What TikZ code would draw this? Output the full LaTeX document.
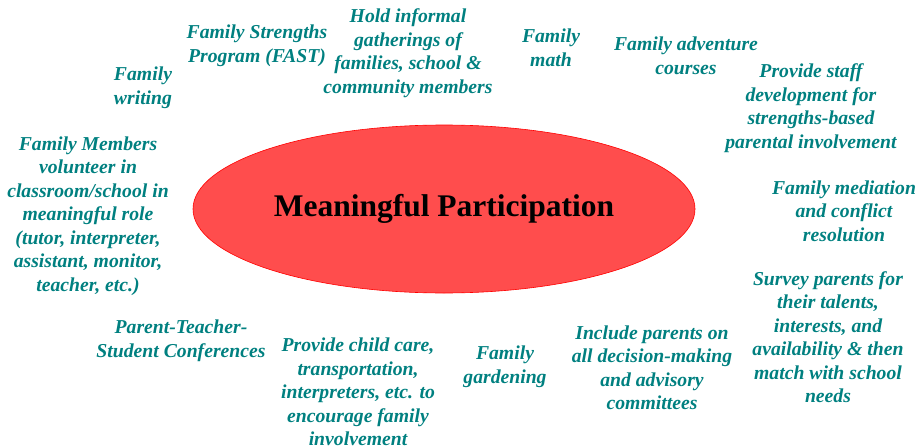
\documentclass[tikz,border=0pt]{standalone}
\usepackage{fontspec}
\setmainfont{Liberation Serif}
\usetikzlibrary{shapes.geometric}
\definecolor{tealtxt}{HTML}{008080}
\definecolor{ellfill}{HTML}{FF4D4D}
\tikzset{
  txt/.style={font=\bfseries\itshape\fontsize{19.7}{23.5}\selectfont, text=tealtxt, align=center, inner sep=0pt},
  hub/.style={ellipse, draw=red, fill=ellfill, line width=0.6pt, minimum width=502pt, minimum height=168pt, inner sep=0pt,
    font=\bfseries\fontsize{31.5}{38}\selectfont, text=black}
}
\begin{document}
\begin{tikzpicture}[x=1pt,y=-1pt]
\useasboundingbox (0,0) rectangle (919,447);
\node[hub] (hub) at (444,209) {Meaningful Participation};
\node[txt] (writing) at (143,88) {Family\\writing};
\node[txt] (fast) at (257,46) {Family Strengths\\Program (FAST)};
\node[txt] (gather) at (408,53) {Hold informal\\gatherings of\\families, school \&\\community members};
\node[txt] (math) at (551,48) {Family\\math};
\node[txt] (adv) at (686,56) {Family adventure\\courses};
\node[txt] (staff) at (811,108) {Provide staff\\development for\\strengths-based\\parental involvement};
\node[txt] (med) at (844,211) {Family mediation\\and conflict\\resolution};
\node[txt] (survey) at (828,337) {Survey parents for\\their talents,\\interests, and\\availability \& then\\match with school\\needs};
\node[txt] (include) at (652,368) {Include parents on\\all decision-making\\and advisory\\committees};
\node[txt] (garden) at (505,367) {Family\\gardening};
\node[txt] (care) at (358,392) {Provide child care,\\transportation,\\interpreters, etc. to\\encourage family\\involvement};
\node[txt] (ptsc) at (181,341) {Parent-Teacher-\\Student Conferences};
\node[txt] (volunteer) at (88,216) {Family Members\\volunteer in\\classroom/school in\\meaningful role\\(tutor, interpreter,\\assistant, monitor,\\teacher, etc.)};
\end{tikzpicture}
\end{document}
